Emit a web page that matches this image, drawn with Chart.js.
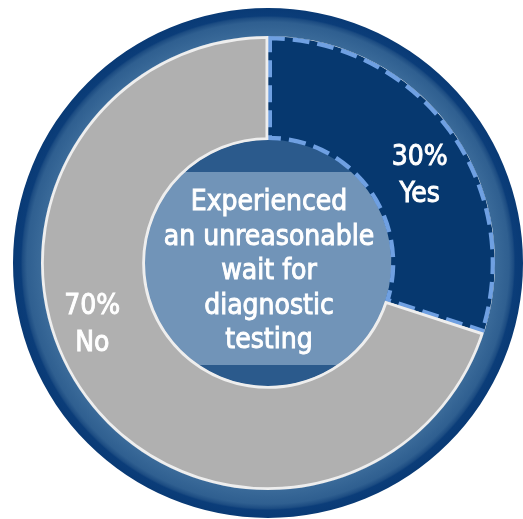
<!DOCTYPE html>
<html>
<head>
<meta charset="utf-8">
<script src="https://cdn.jsdelivr.net/npm/chart.js@4.4.1/dist/chart.umd.min.js"></script>
<style>
  html, body { margin: 0; padding: 0; background: #fff; }
  #wrap { width: 523px; height: 519px; }
</style>
</head>
<body>
<div id="wrap"><canvas id="myChart"></canvas></div>
<script>
// chart data
const categories = ['Yes', 'No'];
const values = [30, 70];
const ringValues = [100];
const centerLines = ['Experienced', 'an unreasonable', 'wait for', 'diagnostic', 'testing'];

const FONT = '"DejaVu Sans Condensed", "DejaVu Sans", sans-serif';

// blue outer ring, darker at the rim
function ringGradient(context) {
    const chart = context.chart;
    const area = chart.chartArea;
    if (!area) return '#2E5E8F';
    const cx = (area.left + area.right) / 2;
    const cy = (area.top + area.bottom) / 2;
    const g = chart.ctx.createRadialGradient(cx, cy, 227, cx, cy, 255);
    g.addColorStop(0, '#3A6A99');
    g.addColorStop(0.5, '#2F5F90');
    g.addColorStop(0.66, '#1C4C82');
    g.addColorStop(0.72, '#0B3D79');
    g.addColorStop(1, '#093A75');
    return g;
}

// white text, slightly thickened
function drawText(ctx, text, x, y) {
    ctx.fillText(text, x, y);
    ctx.strokeText(text, x, y);
}

// inner disc with the question text
const centerDisc = {
    id: 'centerDisc',
    beforeDatasetsDraw(chart) {
        const meta = chart.getDatasetMeta(1);
        const { x, y } = meta.data[0].getProps(['x', 'y'], true);
        const r = 125;
        const ctx = chart.ctx;
        ctx.save();
        ctx.beginPath();
        ctx.arc(x, y, r, 0, Math.PI * 2);
        ctx.fillStyle = '#2B5A8C';
        ctx.fill();
        ctx.clip();
        ctx.fillStyle = '#7194B8';
        ctx.fillRect(x - r, y - 91, r * 2, 193);
        ctx.restore();
    },
    afterDatasetsDraw(chart) {
        const meta = chart.getDatasetMeta(1);
        const { x, y } = meta.data[0].getProps(['x', 'y'], true);
        const ctx = chart.ctx;
        ctx.save();
        ctx.fillStyle = '#FFFFFF';
        ctx.strokeStyle = '#FFFFFF';
        ctx.lineWidth = 0.9;
        ctx.font = '28px ' + FONT;
        ctx.textAlign = 'center';
        ctx.textBaseline = 'alphabetic';
        centerLines.forEach(function (line, i) {
            drawText(ctx, line, x + 1, y - 53 + i * 34.5);
        });
        ctx.restore();
    }
};

// percentage + category labels inside each slice
const sliceLabels = {
    id: 'sliceLabels',
    afterDatasetsDraw(chart, args, opts) {
        const meta = chart.getDatasetMeta(1);
        const ctx = chart.ctx;
        ctx.save();
        ctx.fillStyle = '#FFFFFF';
        ctx.strokeStyle = '#FFFFFF';
        ctx.lineWidth = 0.9;
        ctx.font = '28px ' + FONT;
        ctx.textAlign = 'center';
        ctx.textBaseline = 'alphabetic';
        meta.data.forEach(function (arc, i) {
            const p = arc.getProps(['x', 'y', 'startAngle', 'endAngle', 'innerRadius', 'outerRadius'], true);
            const a = p.startAngle + (p.endAngle - p.startAngle) * opts.angleFrac[i];
            const r = p.innerRadius + (p.outerRadius - p.innerRadius) * opts.radiusFrac[i];
            const lx = p.x + Math.cos(a) * r;
            const ly = p.y + Math.sin(a) * r;
            drawText(ctx, values[i] + '%', lx, ly - 18.5 + 10);
            drawText(ctx, categories[i], lx, ly + 18.5 + 10);
        });
        ctx.restore();
    }
};

var ctx = document.getElementById('myChart').getContext('2d');
var myChart = new Chart(ctx, {
    type: 'doughnut',
    data: {
        labels: categories,
        datasets: [
            {
                label: 'ring',
                data: ringValues,
                backgroundColor: ringGradient,
                borderWidth: 0,
                weight: 28
            },
            {
                label: 'Experienced an unreasonable wait',
                data: values,
                backgroundColor: ['#06386F', '#B0B0B0'],
                borderColor: ['#6FA0E2', '#EEEEEE'],
                borderWidth: [4, 2.5],
                borderAlign: 'inner',
                borderDash: function (c) { return c.dataIndex === 0 ? [17, 8] : []; },
                weight: 104
            }
        ]
    },
    options: {
        responsive: true,
        maintainAspectRatio: false,
        animation: false,
        radius: 255,
        cutout: 123,
        layout: {
            padding: { left: 13, top: 7, right: 0, bottom: 0 }
        },
        plugins: {
            legend: { display: false },
            tooltip: { enabled: false },
            sliceLabels: {
                angleFrac: [0.551, 0.569],
                radiusFrac: [0.51, 0.6]
            }
        }
    },
    plugins: [centerDisc, sliceLabels]
});
</script>
</body>
</html>
